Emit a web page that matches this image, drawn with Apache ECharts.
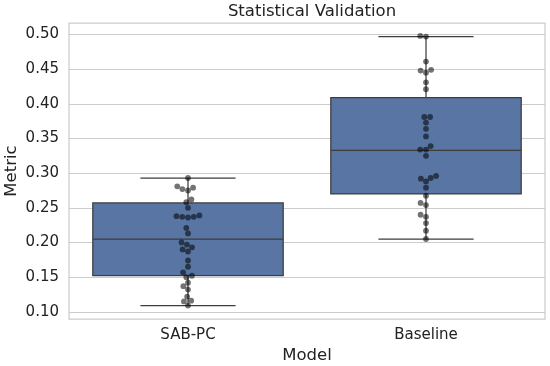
<!DOCTYPE html>
<html><head><meta charset="utf-8">
<script src="https://cdn.jsdelivr.net/npm/echarts@6/dist/echarts.min.js"></script>
<style>html,body{margin:0;padding:0;background:#fff}#c{width:550px;height:366px}</style>
</head><body><div id="c"></div>
<script>
const categories = ['SAB-PC', 'Baseline'];
const sabpcValues = [0.293, 0.281, 0.279, 0.277, 0.275, 0.262, 0.258, 0.250, 0.239, 0.238, 0.237, 0.237, 0.236,
  0.221, 0.213, 0.200, 0.197, 0.193, 0.190, 0.187, 0.174, 0.165, 0.157, 0.152, 0.150, 0.142, 0.137, 0.132,
  0.122, 0.116, 0.115, 0.109];
const baselineValues = [0.498, 0.497, 0.461, 0.449, 0.448, 0.445, 0.431, 0.421, 0.381, 0.381, 0.373, 0.364,
  0.353, 0.339, 0.334, 0.334, 0.325, 0.296, 0.293, 0.292, 0.288, 0.279, 0.2675, 0.257, 0.254, 0.240, 0.237,
  0.228, 0.217, 0.205];
// box statistics: [lower whisker, Q1, median, Q3, upper whisker]
const sabpcBox = [0.109, 0.152, 0.205, 0.257, 0.293];
const baselineBox = [0.205, 0.270, 0.333, 0.409, 0.497];
const yTicks = [0.10, 0.15, 0.20, 0.25, 0.30, 0.35, 0.40, 0.45, 0.50];
const yMin = 0.0896, yMax = 0.5166;

const FONT = 'DejaVu Sans';
const TXT = '#222222';
const BOX_FILL = '#5875a4';
const LINE = '#3d3d3d';
const chart = echarts.init(document.getElementById('c'), null, {renderer: 'canvas'});

const boxData = [[0].concat(sabpcBox), [1].concat(baselineBox)];

const baseOption = {
  animation: false,
  backgroundColor: '#ffffff',
  title: {text: 'Statistical Validation', left: 307, top: -2, textAlign: 'center',
    textStyle: {fontFamily: FONT, fontSize: 16.5, fontWeight: 'normal', color: TXT}},
  grid: {left: 69, right: 5, top: 23, bottom: 47, show: true, borderColor: '#cccccc', borderWidth: 1.25,
    containLabel: false, outerBoundsMode: 'none'},
  xAxis: {type: 'category', data: categories,
    axisLine: {show: false}, axisTick: {show: false},
    axisLabel: {fontFamily: FONT, fontSize: 15, color: TXT, margin: 9},
    splitLine: {show: false},
    name: 'Model', nameLocation: 'middle', nameGap: 28, nameMoveOverlap: false,
    nameTextStyle: {fontFamily: FONT, fontSize: 16.5, color: TXT}},
  yAxis: {type: 'value', min: yMin, max: yMax,
    axisLine: {show: false},
    axisTick: {show: false, customValues: yTicks},
    axisLabel: {fontFamily: FONT, fontSize: 15, color: TXT, margin: 10, customValues: yTicks,
      formatter: v => v.toFixed(2)},
    splitLine: {show: true, lineStyle: {color: '#cccccc', width: 1}},
    name: 'Metric', nameLocation: 'middle', nameGap: 49, nameMoveOverlap: false,
    nameTextStyle: {fontFamily: FONT, fontSize: 16.5, color: TXT}},
  series: [{
    type: 'custom', name: 'box', z: 2,
    data: boxData,
    encode: {x: 0, y: [1, 2, 3, 4, 5]},
    renderItem: function (params, api) {
      const ci = api.value(0);
      const band = api.size([1, 0])[0];
      const cx = api.coord([ci, api.value(1)])[0];
      const yLo = api.coord([ci, api.value(1)])[1];
      const yQ1 = api.coord([ci, api.value(2)])[1];
      const yMed = api.coord([ci, api.value(3)])[1];
      const yQ3 = api.coord([ci, api.value(4)])[1];
      const yHi = api.coord([ci, api.value(5)])[1];
      const hw = band * 0.4, cw = band * 0.2;
      const ls = {stroke: LINE, lineWidth: 1.25};
      return {type: 'group', children: [
        {type: 'line', shape: {x1: cx, y1: yQ3, x2: cx, y2: yHi}, style: ls},
        {type: 'line', shape: {x1: cx, y1: yQ1, x2: cx, y2: yLo}, style: ls},
        {type: 'line', shape: {x1: cx - cw, y1: yHi, x2: cx + cw, y2: yHi}, style: ls},
        {type: 'line', shape: {x1: cx - cw, y1: yLo, x2: cx + cw, y2: yLo}, style: ls},
        {type: 'rect', shape: {x: cx - hw, y: yQ3, width: 2 * hw, height: yQ1 - yQ3},
          style: {fill: BOX_FILL, stroke: LINE, lineWidth: 1.25}},
        {type: 'line', shape: {x1: cx - hw, y1: yMed, x2: cx + hw, y2: yMed}, style: ls}
      ]};
    }
  }]
};
chart.setOption(baseOption);

// beeswarm layout in pixel space
const D = 5.8;
function swarm(vals, ci) {
  const pts = vals.map(v => ({v: v, y: chart.convertToPixel({yAxisIndex: 0}, v), x: 0}))
    .sort((a, b) => a.v - b.v);
  const placed = [];
  for (const p of pts) {
    const neigh = placed.filter(q => Math.abs(q.y - p.y) < D);
    const cands = [0];
    for (const q of neigh) {
      const dx = Math.sqrt(D * D - (q.y - p.y) * (q.y - p.y));
      cands.push(q.x - dx, q.x + dx);
    }
    cands.sort((a, b) => Math.abs(a) - Math.abs(b));
    for (const c of cands) {
      if (neigh.every(q => Math.hypot(q.x - c, q.y - p.y) >= D - 1e-6)) { p.x = c; break; }
    }
    placed.push(p);
  }
  return placed.map(p => [ci, p.v, p.x]);
}
const pointData = swarm(sabpcValues, 0).concat(swarm(baselineValues, 1));

chart.setOption({series: [baseOption.series[0], {
  type: 'custom', name: 'points', z: 5,
  data: pointData,
  encode: {x: 0, y: 1},
  renderItem: function (params, api) {
    const c = api.coord([api.value(0), api.value(1)]);
    return {type: 'circle', shape: {cx: c[0] + api.value(2), cy: c[1], r: 2.9},
      style: {fill: 'rgba(0,0,0,0.55)'}};
  }
}]});
</script>
</body></html>
